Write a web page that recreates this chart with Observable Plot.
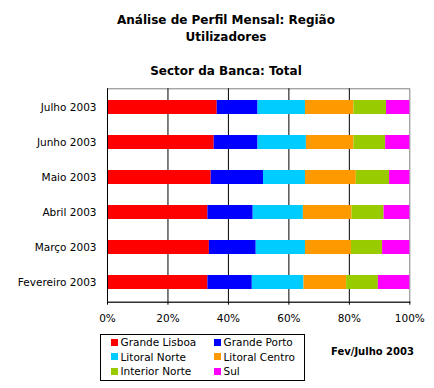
<!DOCTYPE html>
<html><head><meta charset="utf-8">
<script src="https://cdn.jsdelivr.net/npm/d3@7"></script>
<script src="https://cdn.jsdelivr.net/npm/@observablehq/plot@0.6"></script>
<style>
body{margin:0;background:#fff;font-family:"DejaVu Sans",sans-serif;}
#wrap{position:relative;width:434px;height:388px;overflow:hidden;background:#fff;}
.t{position:absolute;left:0;width:452px;text-align:center;font-weight:bold;font-size:12px;line-height:14px;color:#000;white-space:nowrap;}
#chart{position:absolute;left:0;top:80px;}
#legend{position:absolute;left:100px;top:334px;width:203px;height:45px;border:1px solid #000;}
.li{position:absolute;font-size:10.5px;line-height:12px;white-space:nowrap;color:#000;}
.sw{position:absolute;width:7px;height:7px;}
#note{position:absolute;left:331px;top:346px;font-size:10px;font-weight:bold;line-height:12px;white-space:nowrap;}
</style></head>
<body>
<div id="wrap">
  <div class="t" style="top:13px">Análise de Perfil Mensal: Região</div>
  <div class="t" style="top:30px">Utilizadores</div>
  <div class="t" style="top:64px">Sector da Banca: Total</div>
  <div id="chart"></div>
  <div id="legend"></div>
  <div id="note">Fev/Julho 2003</div>
</div>
<script>
const months = ["Julho 2003","Junho 2003","Maio 2003","Abril 2003","Março 2003","Fevereiro 2003"];
const regions = ["Grande Lisboa","Grande Porto","Litoral Norte","Litoral Centro","Interior Norte","Sul"];
const colors = ["#FF0000","#0000FF","#00CCFF","#FF9900","#99CC00","#FF00FF"];
const grandeLisboa  = [36.3, 35.3, 34.3, 33.2, 33.7, 33.2];
const grandePorto   = [13.5, 14.5, 17.3, 15.0, 15.5, 14.7];
const litoralNorte  = [15.7, 16.0, 13.9, 16.6, 16.3, 17.1];
const litoralCentro = [16.0, 15.7, 16.8, 16.1, 15.2, 14.1];
const interiorNorte = [10.8, 10.5, 11.0, 10.6, 10.3, 10.5];
const sul           = [ 7.7,  8.0,  6.7,  8.5,  9.0, 10.4];
const xTicks = [0, 0.2, 0.4, 0.6, 0.8, 1];
const gridTicks = [0.2, 0.4, 0.6, 0.8];

const series = [grandeLisboa, grandePorto, litoralNorte, litoralCentro, interiorNorte, sul];
const data = [];
months.forEach((m, i) => regions.forEach((r, j) => data.push({month: m, region: r, value: series[j][i]})));

const plot = Plot.plot({
  width: 434,
  height: 250,
  marginTop: 8.3,
  marginBottom: 28.3,
  marginLeft: 107,
  marginRight: 24.7,
  style: {fontFamily: "DejaVu Sans", fontSize: "10.5px", color: "#000", background: "#fff"},
  x: {domain: [0, 1]},
  y: {domain: months, paddingInner: 0.6, paddingOuter: 0.3},
  color: {domain: regions, range: colors},
  marks: [
    Plot.frame({stroke: "#808080"}),
    Plot.ruleX(gridTicks, {stroke: "#000"}),
    Plot.barX(data, Plot.stackX({x: "value", y: "month", fill: "region", offset: "normalize", order: regions})),
    Plot.ruleX([0], {stroke: "#000"}),
    Plot.frame({anchor: "bottom", stroke: "#000"}),
    Plot.axisX({ticks: xTicks, tickFormat: d3.format(".0%"), tickSize: 3, tickPadding: 9, label: null, stroke: "#000"}),
    Plot.axisY({tickSize: 0, tickPadding: 11, label: null})
  ]
});
document.getElementById("chart").appendChild(plot);

const lg = document.getElementById("legend");
const colX = [10, 113];
const rowY = [8, 22.5, 37];
regions.forEach((r, i) => {
  const cx = colX[i % 2], cy = rowY[Math.floor(i / 2)];
  const sw = document.createElement("div");
  sw.className = "sw";
  sw.style.left = cx + "px";
  sw.style.top = (cy - 4.5) + "px";
  sw.style.background = colors[i];
  lg.appendChild(sw);
  const t = document.createElement("div");
  t.className = "li";
  t.style.left = (cx + 9.5) + "px";
  t.style.top = (cy - 7) + "px";
  t.textContent = r;
  lg.appendChild(t);
});
</script>
</body></html>
